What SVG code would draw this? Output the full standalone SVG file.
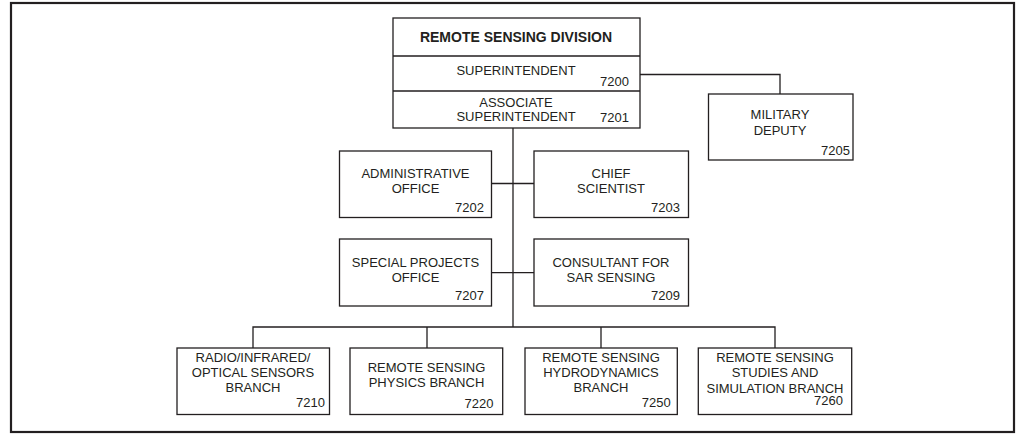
<svg xmlns="http://www.w3.org/2000/svg" width="1016" height="435" viewBox="0 0 1016 435">
<style>
.b{fill:#fff;stroke:#231f20;stroke-width:1.3}
.c{fill:none;stroke:#231f20;stroke-width:1.3}
text{font-family:"Liberation Sans",Arial,sans-serif;font-size:13px;fill:#231f20}
.m{text-anchor:middle}
.n{text-anchor:end}
.t{font-weight:bold;font-size:14px}
</style>
<rect x="0" y="0" width="1016" height="435" fill="#fff"/>
<rect x="11" y="3" width="1003" height="429" fill="none" stroke="#231f20" stroke-width="2.2"/>
<g id="connectors">
<path class="c" d="M640,74.5H780V94"/>
<path class="c" d="M513,128V327"/>
<path class="c" d="M491.5,183.5H534"/>
<path class="c" d="M491.5,272.7H534"/>
<path class="c" d="M253,348V327H775V348M427,327V348M601,327V348"/>
</g>
<g id="division">
<rect class="b" x="393" y="18" width="247" height="110"/>
<path class="c" d="M393,56H640M393,91H640"/>
<text class="m t" x="516" y="42">REMOTE SENSING DIVISION</text>
<text class="m" x="516" y="75">SUPERINTENDENT</text>
<text class="n" x="629" y="86">7200</text>
<text class="m" x="516" y="106.5">ASSOCIATE</text>
<text class="m" x="516" y="120.5">SUPERINTENDENT</text>
<text class="n" x="629" y="121.5">7201</text>
</g>
<g id="military">
<rect class="b" x="708.5" y="94" width="144.5" height="66"/>
<text class="m" x="780" y="118.5">MILITARY</text>
<text class="m" x="780" y="135">DEPUTY</text>
<text class="n" x="850" y="154.5">7205</text>
</g>
<g id="admin">
<rect class="b" x="339.5" y="151" width="152" height="66.5"/>
<text class="m" x="415.5" y="177.7">ADMINISTRATIVE</text>
<text class="m" x="415.5" y="193.3">OFFICE</text>
<text class="n" x="484" y="211.7">7202</text>
</g>
<g id="chief">
<rect class="b" x="534" y="151" width="154.5" height="66.5"/>
<text class="m" x="611" y="177.7">CHIEF</text>
<text class="m" x="611" y="193.3">SCIENTIST</text>
<text class="n" x="680" y="211.7">7203</text>
</g>
<g id="special">
<rect class="b" x="339.5" y="239" width="152" height="67"/>
<text class="m" x="415.5" y="266.7">SPECIAL PROJECTS</text>
<text class="m" x="415.5" y="281.7">OFFICE</text>
<text class="n" x="484" y="300">7207</text>
</g>
<g id="consultant">
<rect class="b" x="534" y="239" width="154.5" height="67"/>
<text class="m" x="611" y="266.7">CONSULTANT FOR</text>
<text class="m" x="611" y="281.7">SAR SENSING</text>
<text class="n" x="680" y="300">7209</text>
</g>
<g id="b7210">
<rect class="b" x="177" y="348" width="152.5" height="66.5"/>
<text class="m" x="253" y="361.7">RADIO/INFRARED/</text>
<text class="m" x="253" y="376.7">OPTICAL SENSORS</text>
<text class="m" x="253" y="391.7">BRANCH</text>
<text class="n" x="325" y="406.7">7210</text>
</g>
<g id="b7220">
<rect class="b" x="350" y="348" width="152.7" height="66.5"/>
<text class="m" x="426.5" y="371.7">REMOTE SENSING</text>
<text class="m" x="426.5" y="386.7">PHYSICS BRANCH</text>
<text class="n" x="493.5" y="408">7220</text>
</g>
<g id="b7250">
<rect class="b" x="525" y="348" width="152.3" height="66.5"/>
<text class="m" x="601" y="361.7">REMOTE SENSING</text>
<text class="m" x="601" y="376.7">HYDRODYNAMICS</text>
<text class="m" x="601" y="391.7">BRANCH</text>
<text class="n" x="670.7" y="406.7">7250</text>
</g>
<g id="b7260">
<rect class="b" x="698.3" y="348" width="153.4" height="66.5"/>
<text class="m" x="775" y="361.7">REMOTE SENSING</text>
<text class="m" x="775" y="376.7">STUDIES AND</text>
<text class="m" x="775" y="392.5">SIMULATION BRANCH</text>
<text class="n" x="843" y="404.5">7260</text>
</g>
</svg>
